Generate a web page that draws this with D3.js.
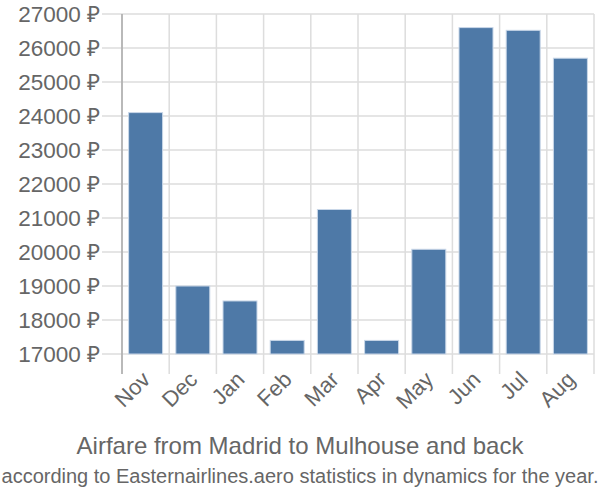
<!DOCTYPE html>
<html lang="en">
<head>
    <meta charset="UTF-8">
    <title>Airfare from Madrid to Mulhouse and back</title>
    <style>
        body, html {
            margin: 0;
            padding: 0;
            background-color: #fff;
            font-family: "Liberation Sans", Arial, sans-serif;
        }
    </style>
</head>
<body>
    <svg id="svg" width="600" height="500"></svg>
    <script src="https://d3js.org/d3.v7.min.js"></script>
    <script>
        const months = ["Nov", "Dec", "Jan", "Feb", "Mar", "Apr", "May", "Jun", "Jul", "Aug"]
        const prices = [24100, 19000, 18560, 17400, 21250, 17400, 20080, 26600, 26520, 25700]
        const yTicks = [17000, 18000, 19000, 20000, 21000, 22000, 23000, 24000, 25000, 26000, 27000]

        const margin = { top: 14, right: 6, bottom: 146, left: 122 }
        const width = 600
        const height = 500

        const xscale = d3.scaleBand()
            .domain(months)
            .range([margin.left, width - margin.right])
            .paddingInner(0.28)
            .paddingOuter(0.14)

        const yscale = d3.scaleLinear()
            .domain([17000, 27000])
            .range([height - margin.bottom, margin.top])

        const svg = d3.select('#svg')

        // horizontal grid + left tick stubs
        svg.append('g')
            .selectAll('line')
            .data(yTicks)
            .enter()
            .append('line')
            .attr('x1', margin.left - 20)
            .attr('x2', width - margin.right)
            .attr('y1', d => yscale(d))
            .attr('y2', d => yscale(d))
            .attr('stroke', '#dddddd')
            .attr('stroke-width', 1.5)

        // vertical grid at band edges
        const edges = months.map(m => xscale(m) - xscale.step() * xscale.paddingInner() / 2)
        edges.push(width - margin.right)
        svg.append('g')
            .selectAll('line')
            .data(edges)
            .enter()
            .append('line')
            .attr('x1', d => d)
            .attr('x2', d => d)
            .attr('y1', margin.top)
            .attr('y2', height - margin.bottom + 20)
            .attr('stroke', '#dddddd')
            .attr('stroke-width', 1.5)

        // left axis line
        svg.append('line')
            .attr('x1', margin.left).attr('x2', margin.left)
            .attr('y1', margin.top).attr('y2', height - margin.bottom + 20)
            .attr('stroke', '#aaaaaa')
            .attr('stroke-width', 1.5)

        // bars
        svg.append('g')
            .selectAll('rect')
            .data(prices)
            .enter()
            .append('rect')
            .attr('x', (d, i) => xscale(months[i]))
            .attr('y', d => yscale(d))
            .attr('width', xscale.bandwidth())
            .attr('height', d => yscale(17000) - yscale(d))
            .attr('fill', '#4e79a7')
            .attr('stroke', '#c9d7e8')
            .attr('stroke-width', 1)

        // y labels
        svg.append('g')
            .selectAll('text')
            .data(yTicks)
            .enter()
            .append('text')
            .attr('x', 100)
            .attr('y', d => yscale(d))
            .attr('dy', '0.35em')
            .attr('text-anchor', 'end')
            .attr('font-size', '22.5px')
            .attr('fill', '#666666')
            .text(d => d + ' ₽')

        // x labels
        svg.append('g')
            .selectAll('text')
            .data(months)
            .enter()
            .append('text')
            .attr('transform', d => `translate(${xscale(d) + xscale.bandwidth() / 2 - 5}, 370) rotate(-45)`)
            .attr('text-anchor', 'end')
            .attr('dy', '0.7em')
            .attr('font-size', '22px')
            .attr('fill', '#666666')
            .text(d => d)

        // titles
        svg.append('text')
            .attr('x', 300)
            .attr('y', 454)
            .attr('text-anchor', 'middle')
            .attr('font-size', '24px')
            .attr('fill', '#666666')
            .text('Airfare from Madrid to Mulhouse and back')

        svg.append('text')
            .attr('x', 300)
            .attr('y', 483)
            .attr('text-anchor', 'middle')
            .attr('font-size', '20px')
            .attr('fill', '#666666')
            .text('according to Easternairlines.aero statistics in dynamics for the year.')
    </script>
</body>
</html>
